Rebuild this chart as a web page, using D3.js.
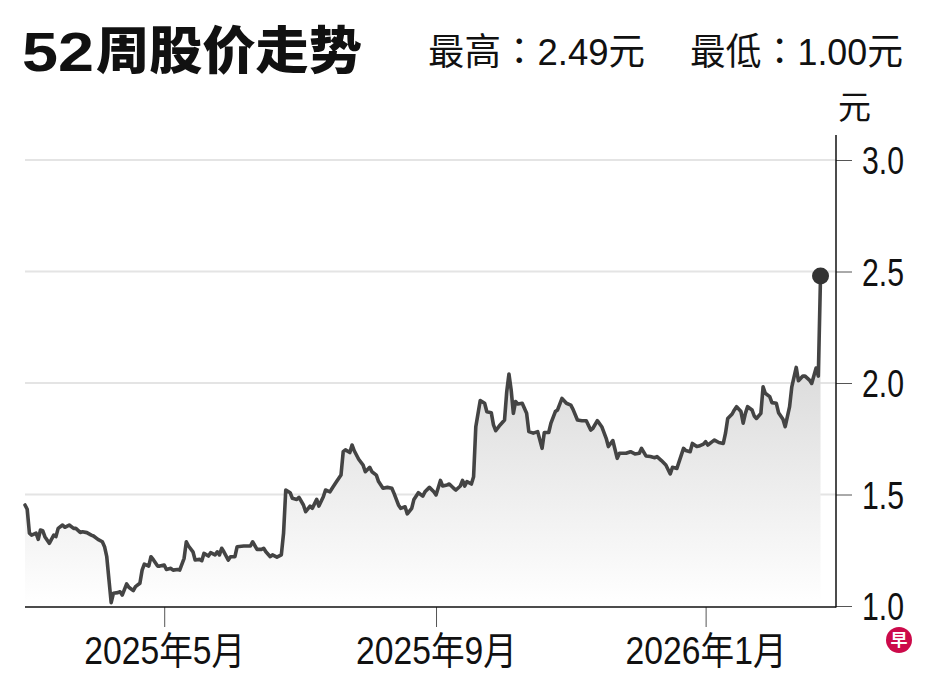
<!DOCTYPE html>
<html><head><meta charset="utf-8">
<script src="https://cdn.jsdelivr.net/npm/d3@7"></script>
<style>body{margin:0;background:#fff} svg{display:block}</style>
</head><body>
<svg id="chart" width="947" height="680"></svg>
<script>
const titleNum = "52";
const titleText = "周股价走势";
const highLabel = "最高：2.49元";
const lowLabel = "最低：1.00元";
const unitLabel = "元";
const domainDates = ["2025-02-27", "2026-03-01"];
const yTicks = [1.0, 1.5, 2.0, 2.5, 3.0];
const xTickDates = ["2025-05-01", "2025-09-01", "2026-01-01"];
const xTickLabels = ["2025年5月", "2025年9月", "2026年1月"];

const dates = [
"2025-02-27","2025-02-28","2025-03-01","2025-03-02","2025-03-04","2025-03-05","2025-03-06","2025-03-07","2025-03-08","2025-03-10",
"2025-03-12","2025-03-13","2025-03-14","2025-03-16","2025-03-17","2025-03-19","2025-03-21","2025-03-22","2025-03-24","2025-03-25",
"2025-03-27","2025-03-29","2025-03-30","2025-04-01","2025-04-03","2025-04-04","2025-04-05","2025-04-06","2025-04-07","2025-04-08",
"2025-04-10","2025-04-11","2025-04-12","2025-04-14","2025-04-15","2025-04-17","2025-04-18","2025-04-20","2025-04-21","2025-04-22",
"2025-04-24","2025-04-25","2025-04-26","2025-04-28","2025-04-29","2025-05-01","2025-05-02","2025-05-04","2025-05-05","2025-05-07",
"2025-05-08","2025-05-10","2025-05-11","2025-05-12","2025-05-14","2025-05-15","2025-05-17","2025-05-18","2025-05-19","2025-05-21",
"2025-05-22","2025-05-24","2025-05-25","2025-05-26","2025-05-27","2025-05-28","2025-05-30","2025-05-31","2025-06-02","2025-06-03",
"2025-06-06","2025-06-09","2025-06-10","2025-06-12","2025-06-14","2025-06-15","2025-06-16","2025-06-18","2025-06-19","2025-06-21",
"2025-06-23","2025-06-24","2025-06-25","2025-06-27","2025-06-28","2025-06-30","2025-07-01","2025-07-03","2025-07-04","2025-07-06",
"2025-07-07","2025-07-09","2025-07-10","2025-07-12","2025-07-13","2025-07-15","2025-07-16","2025-07-18","2025-07-20","2025-07-21",
"2025-07-22","2025-07-24","2025-07-25","2025-07-26","2025-07-28","2025-07-30","2025-07-31","2025-08-02","2025-08-03","2025-08-05",
"2025-08-06","2025-08-08","2025-08-10","2025-08-12","2025-08-13","2025-08-15","2025-08-16","2025-08-18","2025-08-19","2025-08-21",
"2025-08-22","2025-08-24","2025-08-26","2025-08-27","2025-08-29","2025-08-31","2025-09-01","2025-09-03","2025-09-04","2025-09-06",
"2025-09-07","2025-09-09","2025-09-10","2025-09-12","2025-09-13","2025-09-14","2025-09-15","2025-09-17","2025-09-18","2025-09-19",
"2025-09-21","2025-09-23","2025-09-24","2025-09-26","2025-09-27","2025-09-28","2025-09-30","2025-10-02","2025-10-03","2025-10-04",
"2025-10-05","2025-10-06","2025-10-07","2025-10-08","2025-10-10","2025-10-12","2025-10-13","2025-10-15","2025-10-17","2025-10-19",
"2025-10-20","2025-10-22","2025-10-23","2025-10-25","2025-10-26","2025-10-28","2025-10-30","2025-11-01","2025-11-02","2025-11-04",
"2025-11-06","2025-11-08","2025-11-10","2025-11-11","2025-11-13","2025-11-15","2025-11-17","2025-11-18","2025-11-20","2025-11-22",
"2025-11-23","2025-11-26","2025-11-28","2025-11-30","2025-12-02","2025-12-03","2025-12-05","2025-12-07","2025-12-09","2025-12-10",
"2025-12-12","2025-12-14","2025-12-16","2025-12-17","2025-12-19","2025-12-22","2025-12-23","2025-12-25","2025-12-26","2025-12-28",
"2025-12-29","2025-12-31","2026-01-01","2026-01-02","2026-01-04","2026-01-05","2026-01-07","2026-01-09","2026-01-10","2026-01-11",
"2026-01-13","2026-01-14","2026-01-15","2026-01-17","2026-01-18","2026-01-19","2026-01-20","2026-01-22","2026-01-23","2026-01-24",
"2026-01-26","2026-01-27","2026-01-28","2026-01-30","2026-01-31","2026-02-02","2026-02-03","2026-02-05","2026-02-06","2026-02-08",
"2026-02-09","2026-02-11","2026-02-12","2026-02-14","2026-02-15","2026-02-17","2026-02-18","2026-02-20","2026-02-21","2026-02-22"
];
const prices = [
1.453,1.434,1.327,1.318,1.327,1.299,1.341,1.338,1.311,1.281,
1.318,1.311,1.348,1.363,1.353,1.363,1.348,1.348,1.330,1.333,
1.329,1.318,1.314,1.299,1.288,1.266,1.221,1.117,1.015,1.057,
1.060,1.064,1.049,1.099,1.084,1.069,1.087,1.102,1.161,1.188,
1.179,1.221,1.209,1.179,1.179,1.184,1.164,1.169,1.161,1.164,
1.161,1.214,1.288,1.269,1.243,1.206,1.209,1.203,1.236,1.224,
1.239,1.229,1.243,1.229,1.259,1.243,1.206,1.221,1.221,1.266,
1.269,1.269,1.288,1.254,1.254,1.259,1.243,1.221,1.229,1.219,
1.229,1.326,1.520,1.508,1.483,1.478,1.487,1.453,1.423,1.448,
1.438,1.478,1.448,1.490,1.520,1.512,1.528,1.558,1.587,1.692,
1.700,1.688,1.722,1.696,1.658,1.632,1.602,1.622,1.602,1.587,
1.558,1.528,1.532,1.528,1.505,1.453,1.438,1.445,1.413,1.438,
1.478,1.508,1.493,1.512,1.532,1.512,1.498,1.563,1.538,1.543,
1.547,1.528,1.520,1.538,1.563,1.538,1.558,1.547,1.580,1.804,
1.921,1.909,1.871,1.867,1.812,1.786,1.812,1.834,1.961,2.040,
1.969,1.864,1.917,1.906,1.909,1.864,1.782,1.775,1.782,1.707,
1.778,1.778,1.820,1.872,1.879,1.931,1.909,1.901,1.882,1.834,
1.831,1.831,1.789,1.797,1.831,1.804,1.752,1.715,1.742,1.662,
1.685,1.685,1.692,1.682,1.685,1.707,1.673,1.670,1.665,1.670,
1.652,1.632,1.592,1.622,1.617,1.707,1.697,1.692,1.729,1.715,
1.717,1.726,1.737,1.722,1.737,1.744,1.733,1.729,1.775,1.841,
1.861,1.879,1.894,1.872,1.820,1.864,1.894,1.879,1.852,1.841,
1.864,1.983,1.954,1.939,1.912,1.909,1.867,1.837,1.804,1.894,
1.983,2.070,2.010,2.031,2.031,2.013,1.998,2.067,2.031,2.480
];

const parse = d3.timeParse("%Y-%m-%d");
const data = dates.map((d, i) => ({date: parse(d), value: prices[i]}));

const latin = "'Liberation Sans','Noto Sans CJK TC',sans-serif";
const cjkTC = "'Liberation Sans','Noto Sans CJK TC',sans-serif";

const svg = d3.select("#chart");
const plotLeft = 25, plotRight = 836, plotTop = 160, plotBottom = 606;

const x = d3.scaleTime().domain(domainDates.map(parse)).range([plotLeft, plotRight]);
const y = d3.scaleLinear().domain([1, 3]).range([plotBottom, plotTop]);

// gradient
const defs = svg.append("defs");
const grad = defs.append("linearGradient").attr("id", "fillGrad")
  .attr("gradientUnits", "userSpaceOnUse")
  .attr("x1", 0).attr("x2", 0).attr("y1", y(2.05)).attr("y2", y(1.0));
grad.append("stop").attr("offset", "0%").attr("stop-color", "#dcdcdc");
grad.append("stop").attr("offset", "100%").attr("stop-color", "#ffffff");

// gridlines
svg.append("g").selectAll("line").data(yTicks.filter(t => t > 1)).join("line")
  .attr("x1", plotLeft).attr("x2", plotRight)
  .attr("y1", d => y(d)).attr("y2", d => y(d))
  .attr("stroke", "#e4e4e4").attr("stroke-width", 2);

// area
const area = d3.area().x(d => x(d.date)).y0(y(1)).y1(d => y(d.value));
svg.append("path").datum(data).attr("d", area).attr("fill", "url(#fillGrad)");

// line
const line = d3.line().x(d => x(d.date)).y(d => y(d.value));
svg.append("path").datum(data).attr("d", line)
  .attr("fill", "none").attr("stroke", "#444").attr("stroke-width", 3.6)
  .attr("stroke-linejoin", "round").attr("stroke-linecap", "round");

// last point
const last = data[data.length - 1];
svg.append("circle").attr("cx", x(last.date)).attr("cy", y(last.value))
  .attr("r", 8.5).attr("fill", "#333");

// bottom axis
const xAxis = d3.axisBottom(x).tickValues(xTickDates.map(parse))
  .tickSize(20).tickFormat((d, i) => xTickLabels[i]);
const gx = svg.append("g").attr("transform", `translate(0,${plotBottom + 1})`).call(xAxis);
gx.select(".domain").remove();
gx.selectAll(".tick line").attr("stroke", "#555").attr("stroke-width", 1);
gx.selectAll(".tick text").attr("y", 57).attr("dy", 0)
  .attr("font-family", cjkTC).attr("font-size", 38).attr("fill", "#111")
  .attr("textLength", 161).attr("lengthAdjust", "spacingAndGlyphs");
svg.append("line").attr("x1", plotLeft).attr("x2", plotRight)
  .attr("y1", plotBottom + 1).attr("y2", plotBottom + 1)
  .attr("stroke", "#111").attr("stroke-width", 1.5);

// right axis
const yAxis = d3.axisRight(y).tickValues(yTicks).tickSize(16).tickPadding(10)
  .tickFormat(d3.format(".1f"));
const gy = svg.append("g").attr("transform", `translate(${plotRight},0)`).call(yAxis);
gy.select(".domain").remove();
gy.selectAll(".tick line").attr("stroke", "#555").attr("stroke-width", 1);
gy.selectAll(".tick text").attr("font-family", latin).attr("font-size", 38)
  .attr("fill", "#111").attr("dy", "0.36em")
  .attr("textLength", 42).attr("lengthAdjust", "spacingAndGlyphs");
svg.append("line").attr("x1", plotRight).attr("x2", plotRight)
  .attr("y1", 135).attr("y2", plotBottom + 1.5)
  .attr("stroke", "#111").attr("stroke-width", 1.5);

// unit label
svg.append("text").attr("x", 838).attr("y", 119).text(unitLabel)
  .attr("font-family", cjkTC).attr("font-size", 33).attr("fill", "#111");

// title
svg.append("text").attr("x", 22).attr("y", 71).text(titleNum)
  .attr("font-family", latin).attr("font-weight", "bold").attr("font-size", 56)
  .attr("textLength", 72).attr("lengthAdjust", "spacingAndGlyphs").attr("fill", "#111");
svg.append("text").attr("x", 96).attr("y", 69).text(titleText)
  .attr("font-family", "'Noto Sans CJK SC',sans-serif").attr("font-weight", 900).attr("font-size", 51)
  .attr("textLength", 266).attr("lengthAdjust", "spacingAndGlyphs").attr("fill", "#111");

svg.append("text").attr("x", 428).attr("y", 65).text(highLabel)
  .attr("font-family", cjkTC).attr("font-size", 37).attr("fill", "#111")
  .attr("textLength", 217).attr("lengthAdjust", "spacingAndGlyphs");
svg.append("text").attr("x", 690).attr("y", 65).text(lowLabel)
  .attr("font-family", cjkTC).attr("font-size", 37).attr("fill", "#111")
  .attr("textLength", 213).attr("lengthAdjust", "spacingAndGlyphs");

// logo
svg.append("circle").attr("cx", 899).attr("cy", 640).attr("r", 13).attr("fill", "#cc0a4a");
svg.append("text").attr("x", 899).attr("y", 646).attr("text-anchor", "middle")
  .text("早").attr("font-family", "'Noto Sans CJK SC',sans-serif").attr("font-weight", "bold")
  .attr("font-size", 17).attr("fill", "#fff");
</script>
</body></html>
